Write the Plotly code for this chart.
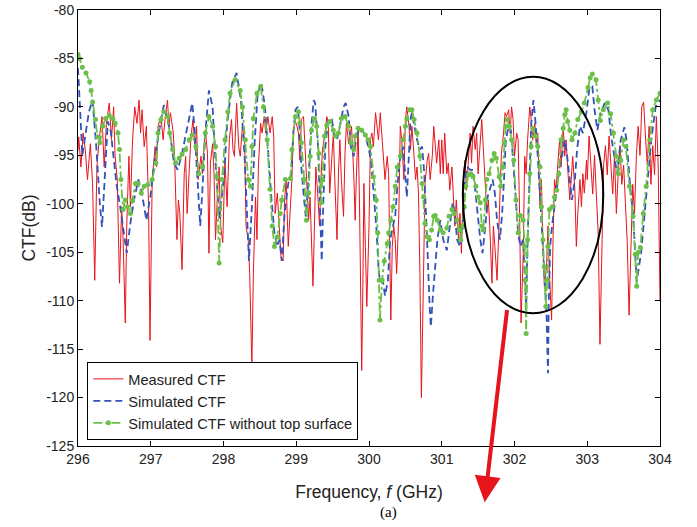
import plotly.graph_objects as go

# ---------------- data ----------------
meas_freq = [
    296.0, 296.01, 296.04, 296.07, 296.1, 296.13, 296.17, 296.2, 296.23, 296.26, 296.29, 296.33, 296.36, 296.39, 296.43, 296.46, 296.49, 296.51, 296.54, 296.57, 296.6, 296.62, 296.65, 296.67, 296.7, 296.72, 296.75, 296.78, 296.81, 296.84, 296.86, 296.88, 296.91, 296.94, 296.97, 296.99,
    297.02, 297.06, 297.08, 297.1, 297.14, 297.17, 297.2, 297.23, 297.25, 297.27, 297.31, 297.33, 297.36, 297.38, 297.4, 297.43, 297.46, 297.48, 297.5, 297.53, 297.55, 297.58, 297.61, 297.63, 297.65, 297.69, 297.71, 297.73, 297.75, 297.78, 297.8, 297.82, 297.85, 297.87, 297.89, 297.92, 297.94, 297.96, 297.99,
    298.02, 298.05, 298.08, 298.11, 298.13, 298.15, 298.18, 298.21, 298.23, 298.26, 298.29, 298.31, 298.34, 298.36, 298.39, 298.41, 298.44, 298.46, 298.48, 298.51, 298.53, 298.56, 298.58, 298.61, 298.64, 298.67, 298.69, 298.71, 298.74, 298.77, 298.79, 298.82, 298.84, 298.86, 298.89, 298.92, 298.94, 298.96, 298.98,
    299.01, 299.03, 299.05, 299.07, 299.1, 299.12, 299.14, 299.17, 299.19, 299.21, 299.23, 299.25, 299.27, 299.3, 299.32, 299.34, 299.36, 299.39, 299.42, 299.44, 299.46, 299.49, 299.51, 299.53, 299.56, 299.58, 299.6, 299.62, 299.65, 299.67, 299.69, 299.72, 299.74, 299.76, 299.79, 299.81, 299.825, 299.85, 299.87, 299.885, 299.9, 299.915, 299.93, 299.95, 299.97, 300.0,
    300.02, 300.04, 300.06, 300.09, 300.11, 300.13, 300.155, 300.18, 300.2, 300.22, 300.25, 300.27, 300.3, 300.32, 300.34, 300.36, 300.38, 300.41, 300.43, 300.45, 300.48, 300.5, 300.52, 300.55, 300.57, 300.59, 300.61, 300.64, 300.66, 300.68, 300.7, 300.72, 300.75, 300.77, 300.8, 300.82, 300.84, 300.87, 300.89, 300.91, 300.93, 300.96, 300.98,
    301.0, 301.02, 301.04, 301.07, 301.09, 301.11, 301.14, 301.16, 301.18, 301.2, 301.23, 301.25, 301.27, 301.3, 301.32, 301.34, 301.37, 301.39, 301.41, 301.43, 301.46, 301.48, 301.5, 301.53, 301.55, 301.57, 301.6, 301.62, 301.64, 301.66, 301.69, 301.71, 301.73, 301.76, 301.78, 301.8, 301.82, 301.85, 301.87, 301.89, 301.92, 301.94, 301.96, 301.98,
    302.0, 302.03, 302.05, 302.07, 302.09, 302.12, 302.14, 302.16, 302.18, 302.21, 302.23, 302.25, 302.28, 302.3, 302.32, 302.35, 302.37, 302.39, 302.41, 302.44, 302.46, 302.48, 302.51, 302.53, 302.55, 302.57, 302.6, 302.62, 302.64, 302.67, 302.69, 302.71, 302.73, 302.76, 302.78, 302.8, 302.83, 302.85, 302.87, 302.9, 302.92, 302.94, 302.96, 302.99,
    303.0, 303.025, 303.05, 303.075, 303.1, 303.125, 303.15, 303.175, 303.2, 303.225, 303.25, 303.275, 303.3, 303.325, 303.35, 303.375, 303.4, 303.425, 303.45, 303.475, 303.5, 303.525, 303.55, 303.575, 303.6, 303.625, 303.65, 303.675, 303.7, 303.725, 303.75, 303.775, 303.8, 303.825, 303.85, 303.875, 303.9, 303.925, 303.95, 303.975, 304.0,
]
meas_ctf = [
    -94.5, -93.1, -96.2, -92.7, -94.4, -97.5, -93.8, -97.9, -107.9, -96.2, -93.4, -91.0, -96.2, -91.7, -89.6, -93.4, -90.0, -95.1, -97.5, -108.2, -100.3, -103.7, -112.3, -102.3, -95.1, -100.3, -93.4, -90.0, -91.7, -89.3, -92.7, -90.3, -94.1, -92.0, -100.3, -114.1,
    -97.5, -94.1, -96.2, -92.0, -91.0, -93.4, -91.0, -89.3, -92.0, -90.6, -92.7, -95.8, -103.7, -99.6, -101.0, -106.8, -96.9, -95.1, -101.0, -96.2, -93.4, -91.3, -94.4, -92.0, -97.5, -95.1, -96.9, -94.4, -92.4, -94.8, -105.1, -95.8, -93.8, -96.9, -103.7, -98.6, -96.2, -102.3, -104.0,
    -95.5, -100.3, -93.4, -91.3, -94.4, -95.1, -89.6, -94.1, -95.1, -92.0, -93.4, -102.3, -103.7, -107.2, -116.8, -107.2, -99.3, -103.7, -96.2, -91.7, -92.7, -91.0, -92.7, -91.0, -92.7, -91.0, -93.0, -101.0, -98.9, -102.3, -105.5, -105.9, -99.6, -97.5, -104.4, -100.3, -97.5, -92.7, -91.3,
    -92.0, -92.7, -95.5, -91.3, -91.0, -94.4, -97.5, -101.7, -99.3, -103.7, -108.5, -102.3, -96.2, -99.6, -102.3, -97.5, -94.4, -93.0, -91.0, -91.7, -98.9, -95.1, -92.7, -97.5, -103.7, -96.9, -93.4, -97.5, -101.3, -94.8, -91.7, -93.8, -92.7, -92.0, -96.9, -101.7, -97.5, -92.0, -100.3, -108.9, -117.2, -108.9, -97.9, -104.4, -110.6, -102.3,
    -93.4, -92.7, -94.1, -90.6, -92.4, -93.4, -90.6, -93.4, -96.2, -97.5, -95.1, -96.9, -112.0, -104.4, -102.3, -103.7, -107.2, -101.0, -92.0, -93.4, -97.5, -91.3, -90.0, -92.0, -94.4, -92.0, -94.1, -97.5, -96.2, -98.9, -107.2, -120.0, -107.2, -97.9, -95.5, -94.8, -97.5, -95.1, -92.0, -94.1, -95.8, -93.4, -96.9,
    -93.4, -96.9, -92.7, -96.9, -95.8, -98.6, -96.2, -100.3, -102.3, -99.6, -103.7, -101.0, -105.1, -96.9, -95.5, -98.6, -94.4, -92.7, -95.8, -92.0, -94.4, -92.7, -96.9, -93.4, -91.3, -94.1, -98.6, -101.0, -99.6, -102.3, -108.2, -102.3, -104.4, -107.9, -103.7, -98.6, -94.8, -92.7, -90.6, -91.0, -90.3, -92.7, -90.0, -91.3,
    -95.1, -92.7, -93.4, -101.0, -112.3, -105.1, -95.1, -96.9, -93.4, -90.0, -91.3, -93.4, -91.7, -94.1, -92.7, -100.3, -97.5, -103.7, -108.5, -106.5, -102.3, -107.2, -112.0, -103.7, -97.5, -98.6, -95.5, -93.4, -96.2, -92.0, -95.1, -93.4, -96.2, -99.6, -97.5, -95.1, -98.6, -104.4, -101.0, -97.5, -100.3, -96.9, -98.9, -95.5,
    -97.5, -93.0, -96.0, -99.0, -95.0, -100.0, -103.0, -114.5, -103.0, -96.0, -94.0, -97.0, -93.0, -96.0, -99.0, -95.0, -101.0, -97.0, -94.0, -98.0, -96.0, -100.0, -104.0, -111.5, -103.0, -98.0, -101.0, -95.0, -92.0, -95.0, -90.0, -89.5, -93.0, -96.0, -92.0, -98.0, -94.0, -97.0, -91.0, -96.0, -110.0,
]

sim_freq = [
    296.0, 296.03, 296.06, 296.1, 296.15, 296.2, 296.25, 296.3, 296.33, 296.37, 296.41, 296.45, 296.49, 296.53, 296.58, 296.63, 296.67, 296.72, 296.77, 296.83, 296.88, 296.94,
    297.0, 297.04, 297.11, 297.18, 297.25, 297.32, 297.37, 297.43, 297.5, 297.55, 297.57, 297.6, 297.64, 297.68, 297.71, 297.75, 297.8, 297.85, 297.88, 297.91, 297.94, 297.98,
    298.01, 298.05, 298.12, 298.18, 298.24, 298.29, 298.32, 298.35, 298.39, 298.43, 298.47, 298.52, 298.57, 298.61, 298.66, 298.7, 298.74, 298.77, 298.8, 298.84, 298.89, 298.93, 298.96, 298.99,
    299.02, 299.04, 299.07, 299.1, 299.13, 299.17, 299.2, 299.24, 299.26, 299.3, 299.33, 299.35, 299.37, 299.4, 299.44, 299.49, 299.52, 299.56, 299.6, 299.65, 299.68, 299.72, 299.75, 299.79, 299.82, 299.86, 299.91, 299.95,
    300.0, 300.03, 300.06, 300.1, 300.13, 300.15, 300.19, 300.22, 300.26, 300.29, 300.33, 300.36, 300.39, 300.43, 300.47, 300.5, 300.52, 300.55, 300.57, 300.59, 300.62, 300.66, 300.7, 300.73, 300.76, 300.79, 300.81, 300.83, 300.85, 300.88, 300.91, 300.94, 300.98,
    301.02, 301.07, 301.11, 301.15, 301.18, 301.21, 301.25, 301.29, 301.32, 301.35, 301.39, 301.43, 301.47, 301.5, 301.53, 301.56, 301.6, 301.63, 301.66, 301.7, 301.73, 301.76, 301.8, 301.83, 301.86, 301.88, 301.92, 301.95, 301.98,
    302.02, 302.05, 302.08, 302.12, 302.14, 302.16, 302.18, 302.21, 302.23, 302.26, 302.29, 302.32, 302.35, 302.38, 302.41, 302.44, 302.46, 302.47, 302.49, 302.52, 302.55, 302.58, 302.62, 302.66, 302.69, 302.72, 302.76, 302.79, 302.83, 302.86, 302.9, 302.94, 302.99,
    303.03, 303.07, 303.1, 303.14, 303.18, 303.24, 303.29, 303.33, 303.38, 303.41, 303.46, 303.51, 303.54, 303.59, 303.63, 303.68, 303.74, 303.79, 303.83, 303.88, 303.94, 304.0,
]
sim_ctf = [
    -86.0, -90.0, -95.0, -93.0, -90.5, -89.3, -94.0, -100.0, -102.4, -97.0, -91.5, -92.5, -95.0, -98.0, -100.3, -103.0, -105.1, -102.0, -99.6, -97.5, -99.0, -101.7,
    -99.0, -96.2, -92.7, -89.8, -92.0, -95.8, -96.5, -94.8, -92.0, -90.0, -89.6, -92.0, -96.9, -102.3, -98.6, -92.7, -88.3, -90.0, -94.4, -97.5, -101.5, -99.0,
    -96.9, -91.7, -87.5, -86.5, -89.3, -95.1, -100.3, -105.9, -100.3, -93.4, -88.6, -87.5, -90.0, -94.4, -99.6, -103.0, -104.4, -103.7, -105.9, -101.0, -97.9, -96.9, -92.7, -90.3,
    -90.0, -91.5, -96.2, -98.9, -101.3, -97.5, -92.7, -89.3, -89.6, -94.1, -101.0, -105.9, -100.3, -94.1, -91.3, -91.3, -92.7, -93.4, -92.0, -90.0, -89.6, -91.0, -94.1, -95.1, -93.4, -92.4, -92.4, -93.0,
    -94.4, -95.8, -98.6, -102.3, -106.5, -108.0, -107.9, -109.5, -107.9, -103.7, -102.3, -101.3, -98.2, -95.1, -94.1, -96.9, -99.3, -94.8, -91.3, -90.6, -92.0, -93.4, -94.4, -94.1, -96.9, -101.7, -105.9, -110.0, -112.7, -109.3, -106.5, -103.7, -101.7,
    -103.7, -104.8, -102.3, -99.9, -101.0, -103.7, -104.4, -102.3, -97.5, -96.2, -96.5, -96.5, -99.3, -101.7, -103.7, -105.1, -102.3, -99.3, -98.6, -97.5, -98.9, -101.7, -103.7, -101.0, -96.9, -93.4, -92.0, -92.4, -95.5,
    -99.6, -103.0, -104.4, -103.7, -107.2, -110.6, -103.7, -96.2, -91.7, -89.3, -91.7, -95.1, -99.6, -103.0, -107.2, -111.3, -117.5, -110.6, -104.4, -102.0, -100.3, -98.2, -96.2, -94.8, -93.4, -94.8, -97.5, -99.6, -97.5, -94.4, -92.0, -92.7, -90.5,
    -88.0, -87.9, -90.3, -92.4, -90.7, -89.6, -90.3, -93.1, -95.5, -96.9, -93.4, -92.1, -93.4, -98.2, -101.0, -108.0, -105.1, -101.0, -96.9, -93.4, -90.0, -89.3,
]

notop_freq = [
    296.0, 296.02, 296.06, 296.11, 296.16, 296.18, 296.2, 296.24, 296.27, 296.3, 296.34, 296.38, 296.43, 296.48, 296.51, 296.55, 296.57, 296.59, 296.62, 296.65, 296.68, 296.72, 296.75, 296.79, 296.82, 296.87, 296.91, 296.96,
    297.02, 297.07, 297.1, 297.14, 297.18, 297.23, 297.26, 297.3, 297.34, 297.39, 297.43, 297.48, 297.53, 297.57, 297.62, 297.66, 297.71, 297.75, 297.8, 297.85, 297.89, 297.91, 297.94, 297.98,
    298.02, 298.06, 298.09, 298.16, 298.23, 298.26, 298.3, 298.34, 298.37, 298.39, 298.41, 298.46, 298.51, 298.55, 298.6, 298.64, 298.67, 298.7, 298.74, 298.78, 298.8, 298.85, 298.92, 298.94, 298.99,
    299.03, 299.05, 299.07, 299.11, 299.14, 299.17, 299.19, 299.21, 299.25, 299.28, 299.31, 299.34, 299.36, 299.39, 299.42, 299.46, 299.51, 299.54, 299.58, 299.62, 299.67, 299.72, 299.75, 299.79, 299.81, 299.85, 299.9, 299.95, 299.99,
    300.02, 300.06, 300.1, 300.12, 300.14, 300.15, 300.18, 300.21, 300.25, 300.27, 300.3, 300.33, 300.36, 300.39, 300.43, 300.47, 300.5, 300.52, 300.56, 300.59, 300.62, 300.66, 300.7, 300.73, 300.75, 300.77, 300.8, 300.83, 300.86, 300.89, 300.91, 300.94, 300.98,
    301.02, 301.07, 301.1, 301.14, 301.17, 301.21, 301.24, 301.26, 301.29, 301.31, 301.33, 301.37, 301.4, 301.43, 301.47, 301.5, 301.53, 301.55, 301.57, 301.6, 301.62, 301.65, 301.69, 301.72, 301.75, 301.79, 301.81, 301.84, 301.86, 301.88, 301.9, 301.93, 301.96, 301.99,
    302.02, 302.05, 302.08, 302.12, 302.14, 302.15, 302.16, 302.18, 302.21, 302.23, 302.25, 302.29, 302.32, 302.35, 302.37, 302.39, 302.41, 302.43, 302.45, 302.46, 302.48, 302.52, 302.55, 302.58, 302.61, 302.64, 302.67, 302.69, 302.71, 302.73, 302.76, 302.79, 302.83, 302.87, 302.92, 302.96,
    303.01, 303.04, 303.07, 303.12, 303.15, 303.18, 303.22, 303.28, 303.32, 303.36, 303.4, 303.43, 303.46, 303.5, 303.53, 303.58, 303.63, 303.66, 303.68, 303.7, 303.73, 303.77, 303.81, 303.86, 303.9, 303.95, 304.0,
]
notop_ctf = [
    -84.6, -85.0, -85.9, -86.5, -87.4, -88.3, -89.5, -91.3, -93.1, -93.7, -92.0, -91.2, -90.9, -91.2, -91.7, -92.7, -94.4, -97.5, -100.6, -99.6, -100.3, -101.0, -99.6, -97.9, -97.9, -98.9, -98.2, -98.0,
    -97.5, -95.8, -92.7, -91.3, -90.5, -91.0, -92.7, -94.4, -95.8, -95.3, -94.9, -94.4, -93.4, -92.9, -94.1, -96.9, -96.2, -92.7, -91.0, -92.0, -94.1, -97.2, -106.1, -97.5,
    -93.4, -90.5, -88.6, -87.2, -88.3, -90.0, -93.4, -97.5, -98.2, -94.1, -91.2, -88.6, -87.9, -90.0, -93.4, -98.5, -102.3, -104.4, -103.4, -101.0, -99.6, -97.5, -97.4, -94.4, -91.0,
    -90.5, -91.7, -93.7, -97.5, -101.7, -98.9, -95.1, -92.4, -91.2, -92.0, -94.8, -99.9, -97.5, -93.0, -91.9, -91.5, -92.4, -93.0, -92.7, -91.2, -91.0, -92.0, -93.7, -94.4, -93.0, -92.2, -92.4, -92.9, -93.4,
    -94.1, -97.2, -99.6, -103.0, -107.9, -112.0, -107.9, -105.9, -104.1, -103.0, -101.7, -100.3, -98.2, -96.2, -95.1, -93.4, -92.0, -91.2, -90.3, -90.3, -91.3, -92.7, -95.1, -97.9, -99.3, -102.0, -103.4, -103.7, -102.7, -101.3, -101.2, -101.7, -102.7,
    -103.0, -102.5, -101.3, -100.6, -101.0, -101.7, -102.7, -103.7, -102.3, -100.3, -98.2, -97.0, -96.9, -97.2, -98.2, -99.3, -99.9, -102.3, -102.7, -99.6, -97.5, -96.9, -95.5, -94.8, -95.3, -97.2, -98.2, -96.2, -93.7, -92.0, -91.3, -92.0, -93.4, -95.5,
    -99.6, -103.0, -101.2, -101.7, -104.4, -107.9, -113.4, -103.7, -96.9, -94.1, -92.2, -93.0, -94.1, -96.2, -100.3, -103.7, -106.5, -110.6, -107.9, -104.4, -100.6, -100.3, -99.3, -98.6, -96.9, -93.4, -92.2, -90.8, -90.3, -91.5, -92.4, -93.4, -92.7, -91.3, -90.5, -89.6,
    -88.0, -87.0, -86.6, -87.2, -89.3, -91.4, -90.3, -89.6, -90.7, -92.7, -95.1, -96.9, -95.5, -93.4, -94.1, -98.2, -101.3, -105.2, -108.5, -105.0, -104.5, -101.0, -98.2, -93.4, -90.3, -89.3, -88.6,
]

series_names = ["Measured CTF", "Simulated CTF", "Simulated CTF without top surface"]
x_ticks = [296, 297, 298, 299, 300, 301, 302, 303, 304]
y_ticks = [-125, -120, -115, -110, -105, -100, -95, -90, -85, -80]
y_tick_labels = ["-125", "-120", "-115", "-110", "-105", "-100", "-95", "-90", "-85", "-80"]

assert len(meas_freq) == len(meas_ctf)
assert len(sim_freq) == len(sim_ctf)
assert len(notop_freq) == len(notop_ctf)

# ---------------- figure ----------------
RED = "#e8141c"
BLUE = "#3353b8"
GREEN = "#6cc04a"
FONT = "Liberation Sans, Arial, sans-serif"

fig = go.Figure()
fig.add_trace(go.Scatter(x=meas_freq, y=meas_ctf, mode="lines", name=series_names[0],
                         line=dict(color=RED, width=1)))
fig.add_trace(go.Scatter(x=sim_freq, y=sim_ctf, mode="lines", name=series_names[1],
                         line=dict(color=BLUE, width=1.8, dash="7px,4px")))
fig.add_trace(go.Scatter(x=notop_freq, y=notop_ctf, mode="lines+markers", name=series_names[2],
                         line=dict(color=GREEN, width=1.8, dash="dashdot"),
                         marker=dict(color=GREEN, size=5, symbol="circle")))

# ellipse highlighting the region of interest
fig.add_shape(type="circle", xref="x", yref="y", x0=301.29, x1=303.22, y0=-111.3, y1=-86.9,
              line=dict(color="black", width=2))

# red arrow
fig.add_annotation(x=301.59, y=-130.8, ax=301.9, ay=-110.8, xref="x", yref="y",
                   axref="x", ayref="y", text="", showarrow=True, arrowhead=2,
                   arrowsize=1.3, arrowwidth=4, arrowcolor=RED)

# "(a)" caption
fig.add_annotation(x=0.533, y=-0.176, xref="paper", yref="paper", text="(a)", showarrow=False,
                   font=dict(family="Liberation Serif, Times New Roman, serif", size=15, color="black"))

axis_common = dict(showline=True, linecolor="black", linewidth=1, mirror="ticks",
                   ticks="inside", ticklen=5, tickcolor="black", showgrid=False, zeroline=False,
                   automargin=False, ticklabeloverflow="allow",
                   tickfont=dict(family=FONT, size=14, color="#222"))

fig.update_layout(
    width=697, height=527,
    margin=dict(l=78, r=37, t=10, b=81),
    paper_bgcolor="white", plot_bgcolor="white",
    font=dict(family=FONT, color="#222"),
    showlegend=True,
    legend=dict(x=0.016, y=0.014, xanchor="left", yanchor="bottom",
                bgcolor="white", bordercolor="black", borderwidth=1,
                font=dict(family=FONT, size=14.6, color="#222"), tracegroupgap=0),
    xaxis=dict(range=[296, 304], tickvals=x_ticks, title=dict(text="Frequency, <i>f</i> (GHz)",
               font=dict(family=FONT, size=17.5), standoff=19), **axis_common),
    yaxis=dict(range=[-125, -80], tickvals=y_ticks, ticktext=y_tick_labels,
               title=dict(text="CTF(dB)", font=dict(family=FONT, size=17.5), standoff=6),
               **axis_common),
)

fig.write_html("out.html", config={"displayModeBar": False},
               post_script="document.body.style.margin='0px';")
